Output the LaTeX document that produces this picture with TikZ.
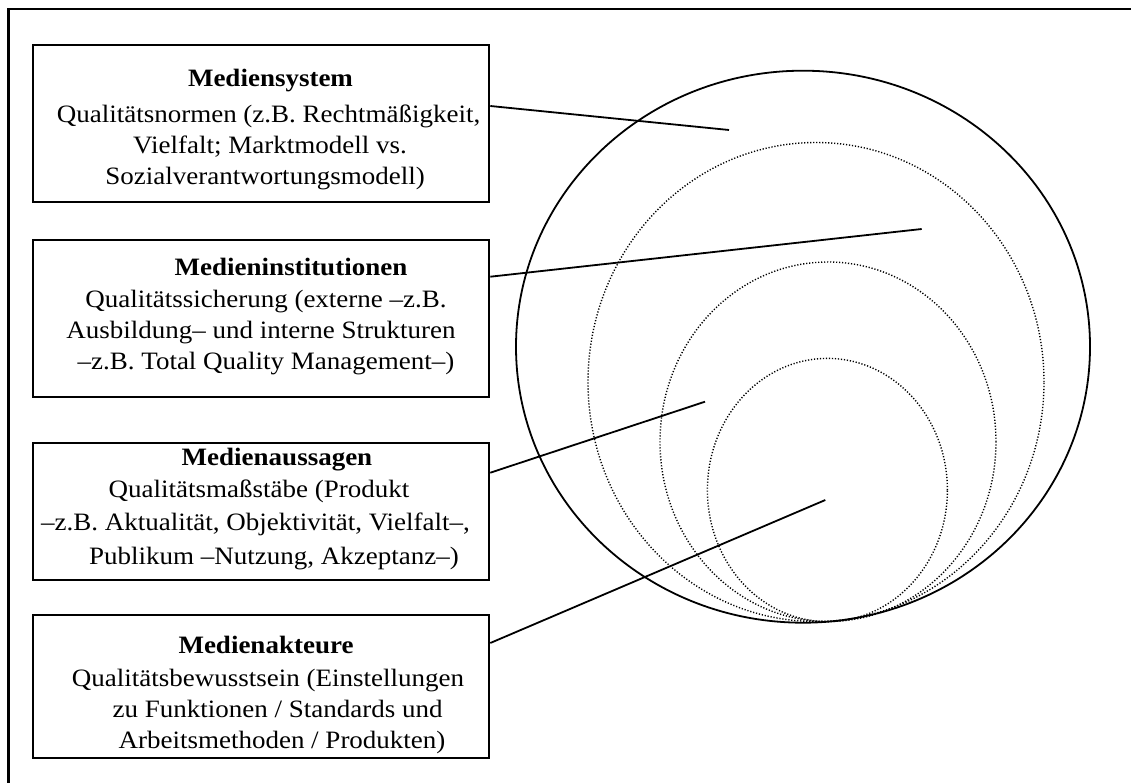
\documentclass[tikz,border=0pt]{standalone}
\usepackage{fontspec}
\setmainfont[FakeStretch=1.08]{Liberation Serif}
\begin{document}
\begin{tikzpicture}[x=1pt,y=-1pt,
  panel/.style={draw=black,line width=2pt,inner sep=0pt,rectangle},
  txt/.style={anchor=base,inner sep=0pt,font=\fontsize{25}{30}\selectfont},
  link/.style={draw=black,line width=1.8pt},
  rim/.style={draw=black,line width=1.8pt},
  ring/.style={draw=black,line width=1.4pt,dash pattern=on 1.2pt off 1.8pt}]
\useasboundingbox (0,0) rectangle (1131,783);

% outer frame, running past the right and bottom edge
\begin{scope}
\clip (0,0) rectangle (1131,783);
\draw[line width=2.4pt] (8.6,9) rectangle (1150,800);
\end{scope}

% four text panels
\node[panel,minimum width=456.8pt,minimum height=157pt] (sys) at (260.9,123.5) {};
\node[panel,minimum width=456.8pt,minimum height=157pt] (inst) at (260.9,318.5) {};
\node[panel,minimum width=456.8pt,minimum height=137.5pt] (auss) at (260.9,511.25) {};
\node[panel,minimum width=456.8pt,minimum height=143pt] (akt) at (260.9,686.5) {};

\node[txt] (sys-1) at (270.5,87) {\textbf{Mediensystem}};
\node[txt] (sys-2) at (268.6,123) {Qualitätsnormen (z.B. Rechtmäßigkeit,};
\node[txt] (sys-3) at (270,154) {Vielfalt; Marktmodell vs.};
\node[txt] (sys-4) at (265,185) {Sozialverantwortungsmodell)};

\node[txt] (inst-1) at (291,276) {\textbf{Medieninstitutionen}};
\node[txt] (inst-2) at (266,307) {Qualitätssicherung (externe –z.B.};
\node[txt] (inst-3) at (261,338) {Ausbildung– und interne Strukturen};
\node[txt] (inst-4) at (266,369) {–z.B. Total Quality Management–)};

\node[txt] (auss-1) at (277,465) {\textbf{Medienaussagen}};
\node[txt] (auss-2) at (259,497) {Qualitätsmaßstäbe (Produkt};
\node[txt] (auss-3) at (255.5,530) {–z.B. Aktualität, Objektivität, Vielfalt–,};
\node[txt] (auss-4) at (274,564) {Publikum –Nutzung, Akzeptanz–)};

\node[txt] (akt-1) at (266,653) {\textbf{Medienakteure}};
\node[txt] (akt-2) at (268,686) {Qualitätsbewusstsein (Einstellungen};
\node[txt] (akt-3) at (277.6,717) {zu Funktionen / Standards und};
\node[txt] (akt-4) at (282,748) {Arbeitsmethoden / Produkten)};

% nested levels: outer solid ring and three dotted rings touching at the bottom
\draw[rim] (803,346.7) ellipse [x radius=287pt, y radius=276pt];
\draw[ring] (816,382) ellipse [x radius=228pt, y radius=239.5pt];
\draw[ring] (828,441.75) ellipse [x radius=168pt, y radius=179.75pt];
\draw[ring] (827.4,490) ellipse [x radius=120pt, y radius=131.6pt];

% pointer ends inside the rings
\coordinate (p-sys) at (729,130);
\coordinate (p-inst) at (921.7,229);
\coordinate (p-auss) at (705,401.7);
\coordinate (p-akt) at (825.3,500);

\draw[link] (sys.east |- 0,106) -- (p-sys);
\draw[link] (inst.east |- 0,276.7) -- (p-inst);
\draw[link] (auss.east |- 0,472.7) -- (p-auss);
\draw[link] (akt.east |- 0,643) -- (p-akt);
\end{tikzpicture}
\end{document}
